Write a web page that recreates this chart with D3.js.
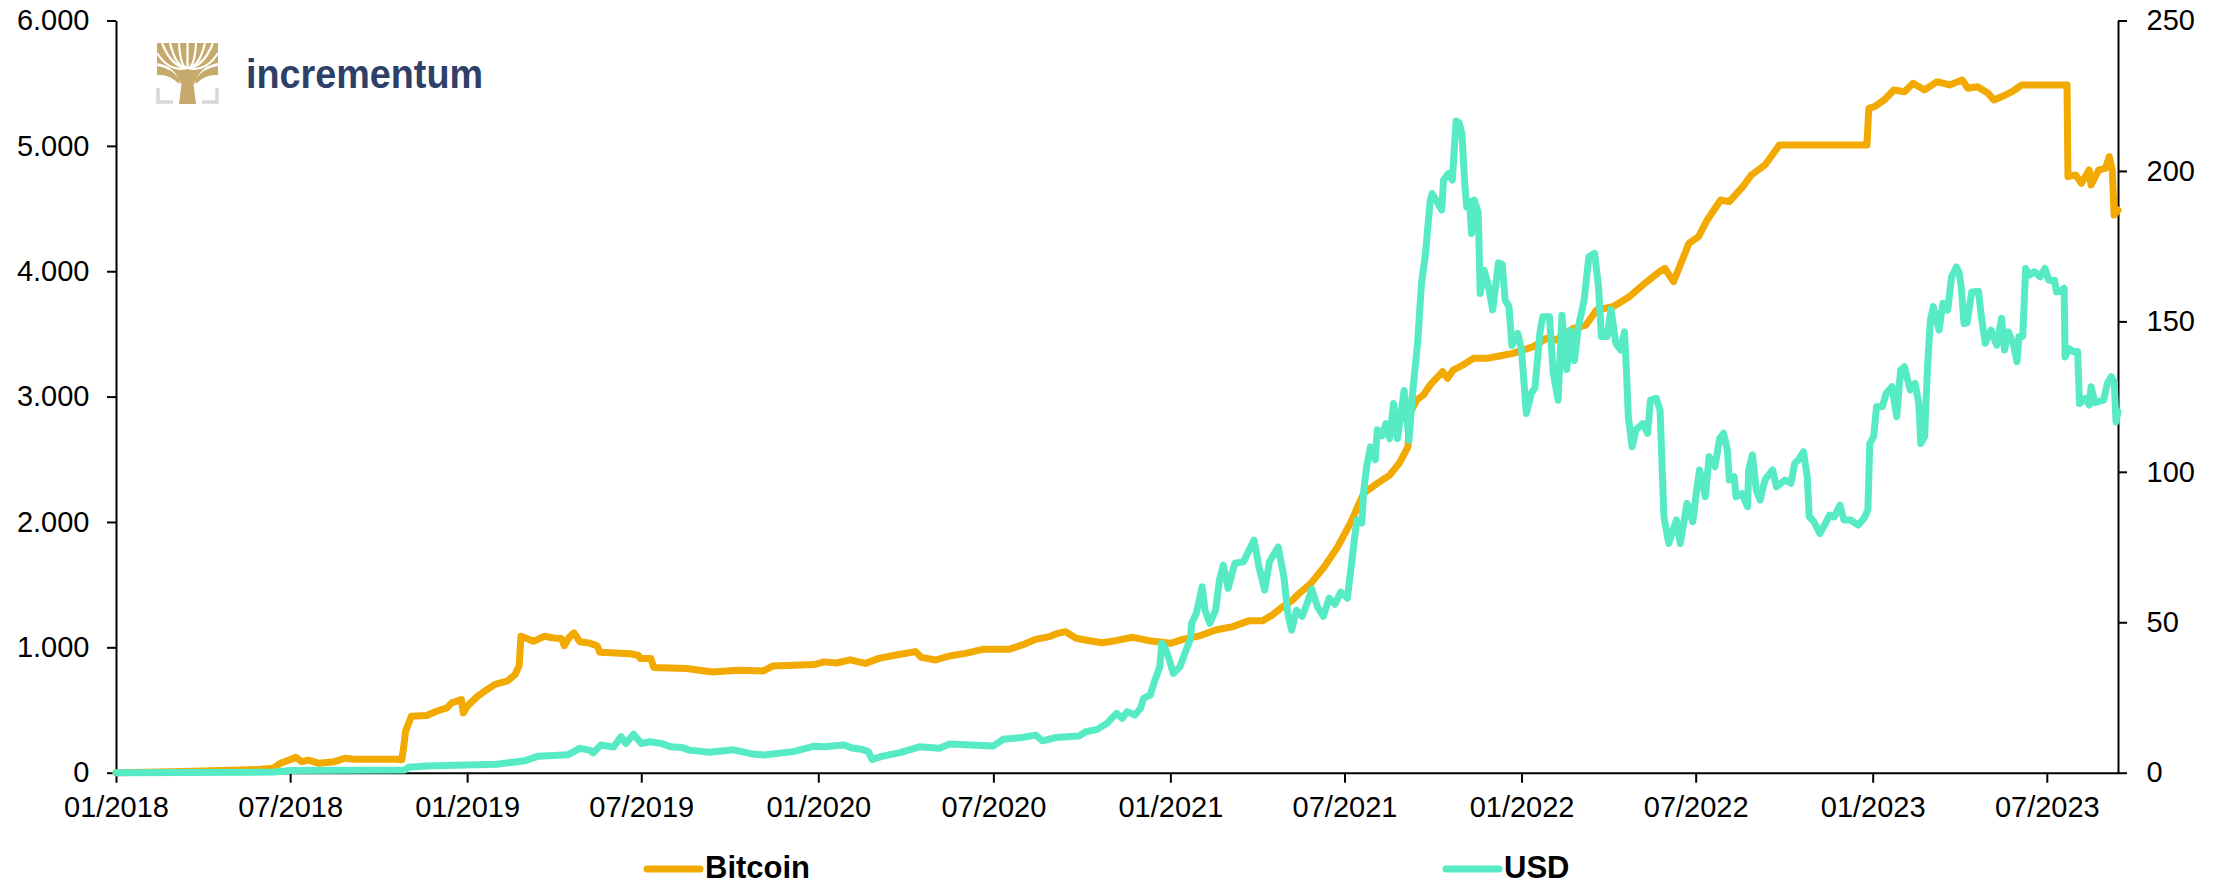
<!DOCTYPE html>
<html>
<head>
<meta charset="utf-8">
<script src="https://cdn.jsdelivr.net/npm/d3@7"></script>
<style>
  body { margin: 0; background: #ffffff; }
  svg { display: block; font-family: "Liberation Sans", Arial, sans-serif; }
</style>
</head>
<body>
<div id="chart"></div>
<script>
// ---- data ----
var bitcoinPoints = [
  ["2018-01-01",0],["2018-02-01",4],["2018-03-01",8],["2018-04-01",14],["2018-05-01",20],["2018-06-01",27],
  ["2018-06-13",35],["2018-06-21",75],["2018-06-28",95],["2018-07-07",123],["2018-07-13",88],["2018-07-20",100],
  ["2018-07-31",75],["2018-08-16",88],["2018-08-27",115],["2018-09-06",107],["2018-10-19",107],["2018-10-25",104],
  ["2018-10-27",200],["2018-10-29",330],["2018-11-04",450],["2018-11-20",456],["2018-11-30",490],["2018-12-11",517],
  ["2018-12-16",557],["2018-12-26",584],["2018-12-28",477],["2019-01-01",530],["2019-01-12",611],["2019-01-22",665],
  ["2019-01-30",705],["2019-02-12",732],["2019-02-20",785],["2019-02-24",852],["2019-02-26",1088],["2019-03-11",1048],
  ["2019-03-22",1088],["2019-04-01",1075],["2019-04-09",1070],["2019-04-12",1013],["2019-04-17",1080],["2019-04-22",1115],
  ["2019-04-28",1045],["2019-05-08",1034],["2019-05-16",1013],["2019-05-19",960],["2019-06-20",949],["2019-06-28",935],
  ["2019-06-30",911],["2019-07-11",911],["2019-07-14",839],["2019-08-17",831],["2019-09-13",804],["2019-10-09",817],
  ["2019-11-05",812],["2019-11-15",852],["2019-12-28",863],["2020-01-07",884],["2020-01-20",875],["2020-02-03",900],
  ["2020-02-19",872],["2020-03-04",912],["2020-03-22",939],["2020-04-11",966],["2020-04-17",920],["2020-05-02",899],
  ["2020-05-16",931],["2020-06-02",952],["2020-06-20",984],["2020-07-17",984],["2020-07-31",1019],["2020-08-14",1064],
  ["2020-08-28",1085],["2020-09-04",1107],["2020-09-14",1125],["2020-09-25",1072],["2020-10-09",1053],["2020-10-22",1037],
  ["2020-11-05",1053],["2020-11-23",1080],["2020-12-10",1053],["2021-01-01",1032],["2021-01-14",1064],["2021-01-31",1091],
  ["2021-02-17",1138],["2021-03-07",1165],["2021-03-24",1213],["2021-04-07",1213],["2021-04-17",1258],["2021-04-28",1325],
  ["2021-05-08",1377],["2021-05-15",1431],["2021-05-27",1510],["2021-06-10",1643],["2021-06-24",1803],["2021-07-07",1989],
  ["2021-07-21",2230],["2021-08-04",2308],["2021-08-17",2374],["2021-08-27",2470],["2021-09-05",2600],["2021-09-07",2866],
  ["2021-09-14",2973],["2021-09-21",3013],["2021-09-28",3093],["2021-10-11",3199],["2021-10-16",3146],["2021-10-22",3212],
  ["2021-11-01",3252],["2021-11-12",3305],["2021-11-26",3305],["2021-12-09",3324],["2021-12-23",3345],["2022-01-13",3398],
  ["2022-01-27",3465],["2022-02-06",3452],["2022-02-24",3545],["2022-03-09",3571],["2022-03-20",3691],["2022-04-06",3717],
  ["2022-04-23",3797],["2022-05-07",3890],["2022-05-25",4000],["2022-05-30",4023],["2022-06-08",3917],["2022-06-15",4050],
  ["2022-06-24",4223],["2022-07-04",4276],["2022-07-13",4409],["2022-07-27",4568],["2022-08-05",4555],["2022-08-19",4675],
  ["2022-08-28",4768],["2022-09-11",4847],["2022-09-20",4941],["2022-09-26",5007],["2022-12-26",5007],["2022-12-28",5299],
  ["2023-01-03",5313],["2023-01-13",5366],["2023-01-23",5446],["2023-02-03",5432],["2023-02-12",5499],["2023-02-24",5446],
  ["2023-03-09",5512],["2023-03-22",5486],["2023-04-04",5525],["2023-04-10",5459],["2023-04-20",5472],["2023-05-01",5419],
  ["2023-05-07",5366],["2023-05-19",5406],["2023-05-26",5432],["2023-06-05",5486],["2023-07-22",5486],["2023-07-23",4754],
  ["2023-07-31",4768],["2023-08-06",4701],["2023-08-14",4808],["2023-08-16",4688],["2023-08-24",4808],["2023-08-31",4821],
  ["2023-09-04",4914],["2023-09-07",4808],["2023-09-09",4448],["2023-09-13",4488]
];

var usdPoints = [
  ["2018-01-01",0],["2018-06-15",0.2],["2018-07-01",0.7],["2018-10-28",0.9],["2018-11-01",1.8],["2018-11-20",2.2],
  ["2018-12-20",2.5],["2019-02-01",2.8],["2019-03-02",4.0],["2019-03-16",5.5],["2019-04-16",6.0],["2019-04-28",8.1],
  ["2019-05-08",7.5],["2019-05-12",6.6],["2019-05-20",9.2],["2019-06-02",8.5],["2019-06-10",12.0],["2019-06-15",9.7],
  ["2019-06-23",12.8],["2019-07-01",9.7],["2019-07-10",10.3],["2019-07-22",9.7],["2019-08-01",8.6],["2019-08-12",8.4],
  ["2019-08-20",7.5],["2019-09-10",6.8],["2019-10-05",7.6],["2019-10-25",6.2],["2019-11-05",5.9],["2019-12-06",7.0],
  ["2019-12-28",8.8],["2020-01-07",8.6],["2020-01-28",9.2],["2020-02-05",8.2],["2020-02-15",7.8],["2020-02-22",7.0],
  ["2020-02-26",4.4],["2020-03-08",5.5],["2020-03-25",6.6],["2020-04-15",8.6],["2020-05-06",8.1],["2020-05-16",9.5],
  ["2020-07-01",8.9],["2020-07-11",11.1],["2020-07-31",11.7],["2020-08-14",12.5],["2020-08-21",10.6],["2020-09-04",11.7],
  ["2020-09-28",12.2],["2020-10-05",13.6],["2020-10-17",14.4],["2020-10-27",16.4],["2020-11-06",19.7],["2020-11-12",18.1],
  ["2020-11-17",20.3],["2020-11-25",19.2],["2020-12-01",21.4],["2020-12-04",24.7],["2020-12-11",25.8],["2020-12-16",30.8],
  ["2020-12-21",35.2],["2020-12-23",43],["2020-12-26",41.9],["2020-12-30",38.5],["2021-01-04",33],["2021-01-11",35.2],
  ["2021-01-16",39.7],["2021-01-22",44.6],["2021-01-23",49.6],["2021-01-28",53],["2021-02-03",61.8],["2021-02-06",54],
  ["2021-02-11",49.6],["2021-02-17",54],["2021-02-21",64],["2021-02-25",69],["2021-03-02",61.3],["2021-03-09",69.6],
  ["2021-03-18",70.1],["2021-03-29",77.3],["2021-04-03",68.5],["2021-04-09",60.7],["2021-04-14",70.1],["2021-04-23",75],
  ["2021-04-29",65.1],["2021-05-03",53],["2021-05-07",47.4],["2021-05-12",54],["2021-05-18",52],["2021-05-24",57],
  ["2021-05-28",61],["2021-06-03",55],["2021-06-09",52],["2021-06-15",58],["2021-06-21",56],["2021-06-27",60],
  ["2021-07-04",58],["2021-07-07",66],["2021-07-12",79.5],["2021-07-14",84],["2021-07-19",83],["2021-07-21",94],
  ["2021-07-24",101.7],["2021-07-28",108.3],["2021-08-02",104],["2021-08-04",114],["2021-08-09",112],["2021-08-13",116],
  ["2021-08-17",111],["2021-08-21",122.7],["2021-08-25",111],["2021-09-01",127],["2021-09-06",110.5],["2021-09-10",127],
  ["2021-09-15",143],["2021-09-19",162.6],["2021-09-23",172],["2021-09-28",190],["2021-09-30",192.5],["2021-10-10",187],
  ["2021-10-12",197],["2021-10-17",199.2],["2021-10-21",197],["2021-10-25",216.6],["2021-10-28",216],["2021-10-31",212.5],
  ["2021-11-03",195.8],["2021-11-05",188],["2021-11-08",190],["2021-11-10",179.2],["2021-11-13",190.3],["2021-11-17",186],
  ["2021-11-19",159.3],["2021-11-23",167],["2021-11-27",162.6],["2021-12-02",153.8],["2021-12-08",169.5],["2021-12-12",169],
  ["2021-12-15",157],["2021-12-19",154.9],["2021-12-22",142],["2021-12-28",146],["2022-01-01",140.5],["2022-01-06",119.4],
  ["2022-01-11",126],["2022-01-15",128],["2022-01-20",146],["2022-01-23",151.5],["2022-01-30",151.5],["2022-02-03",132.7],
  ["2022-02-08",123.8],["2022-02-12",152],["2022-02-17",134],["2022-02-21",147],["2022-02-25",137],["2022-03-01",148],
  ["2022-03-07",157],["2022-03-12",171.5],["2022-03-18",172.6],["2022-03-22",161.5],["2022-03-25",145],["2022-03-31",145],
  ["2022-04-04",154],["2022-04-09",142.7],["2022-04-14",140.5],["2022-04-18",146.5],["2022-04-20",133.8],["2022-04-22",118.3],
  ["2022-04-26",108.3],["2022-04-30",114],["2022-05-07",116],["2022-05-12",112.8],["2022-05-15",123.8],["2022-05-21",124.4],
  ["2022-05-25",120.5],["2022-05-29",85.1],["2022-06-03",76.2],["2022-06-11",84],["2022-06-15",76.2],["2022-06-22",89.5],
  ["2022-06-28",83.4],["2022-07-02",93.9],["2022-07-05",100.6],["2022-07-11",91.7],["2022-07-15",105],["2022-07-21",101.7],
  ["2022-07-26",111.1],["2022-07-30",112.8],["2022-08-03",107.2],["2022-08-05",97.3],["2022-08-10",98.4],["2022-08-12",91.7],
  ["2022-08-18",92.8],["2022-08-24",88.4],["2022-08-25",100.6],["2022-08-29",105.6],["2022-09-02",93.9],["2022-09-06",90.6],
  ["2022-09-11",97.3],["2022-09-19",100.6],["2022-09-23",95],["2022-10-02",97.3],["2022-10-08",96.2],["2022-10-12",102.8],
  ["2022-10-17",104.5],["2022-10-21",106.7],["2022-10-25",98.4],["2022-10-27",85.1],["2022-11-01",83.4],["2022-11-07",79.5],
  ["2022-11-13",82.9],["2022-11-17",85.6],["2022-11-22",85],["2022-11-28",88.9],["2022-12-02",84],["2022-12-09",84],
  ["2022-12-17",82.3],["2022-12-23",84.5],["2022-12-27",87.3],["2022-12-29",109.4],["2023-01-02",111.7],["2023-01-05",121.6],
  ["2023-01-11",121.6],["2023-01-15",126],["2023-01-21",128.3],["2023-01-26",118.3],["2023-01-30",133.8],["2023-02-03",134.9],
  ["2023-02-09",127.2],["2023-02-14",129.4],["2023-02-18",122.7],["2023-02-20",109.4],["2023-02-24",111.7],["2023-02-27",134.9],
  ["2023-03-02",150.4],["2023-03-05",154.9],["2023-03-11",147.1],["2023-03-15",156],["2023-03-20",153.8],["2023-03-24",164.8],
  ["2023-03-29",168.1],["2023-04-01",166],["2023-04-03",161.5],["2023-04-06",149.3],["2023-04-09",149.5],["2023-04-14",159.8],
  ["2023-04-21",160],["2023-04-24",151.5],["2023-04-28",142.7],["2023-05-04",147.1],["2023-05-10",142.1],["2023-05-15",151],
  ["2023-05-18",140.5],["2023-05-22",146.5],["2023-05-27",142.7],["2023-05-31",136.6],["2023-06-02",144.9],["2023-06-06",145],
  ["2023-06-09",167.6],["2023-06-13",165.4],["2023-06-18",166.5],["2023-06-24",164.8],["2023-06-29",167.6],["2023-07-03",163.7],
  ["2023-07-09",163.7],["2023-07-11",159.8],["2023-07-15",160],["2023-07-19",161],["2023-07-20",138.2],["2023-07-24",141],
  ["2023-07-28",140],["2023-08-02",140],["2023-08-04",122.7],["2023-08-10",124.4],["2023-08-14",122.2],["2023-08-16",128.3],
  ["2023-08-20",123],["2023-08-25",123.5],["2023-08-29",123.8],["2023-09-02",129.4],["2023-09-06",131.6],["2023-09-09",129.9],
  ["2023-09-11",116.6],["2023-09-13",120]
];

var leftTicks = [0, 1000, 2000, 3000, 4000, 5000, 6000];
var rightTicks = [0, 50, 100, 150, 200, 250];
var xDomain = ["2018-01-01", "2023-09-13"];
var seriesNames = ["Bitcoin", "USD"];
var seriesColors = ["#f2a900", "#57ebc5"];

// ---- layout ----
var W = 2226, H = 884;
var margin = {top: 20.5, right: 108, bottom: 111.3, left: 116},
    width = W - margin.left - margin.right,
    height = H - margin.top - margin.bottom;

var parse = d3.timeParse("%Y-%m-%d");
var fmtDE = d3.formatLocale({decimal: ",", thousands: ".", grouping: [3], currency: ["", ""]}).format(",");

var svg = d3.select("#chart").append("svg")
  .attr("width", W)
  .attr("height", H);

var g = svg.append("g")
  .attr("transform", "translate(" + margin.left + "," + margin.top + ")");

var x = d3.scaleTime()
  .domain(xDomain.map(parse))
  .range([0, width]);

var yLeft = d3.scaleLinear().domain([0, 6000]).range([height, 0]);
var yRight = d3.scaleLinear().domain([0, 250]).range([height, 0]);

// axes
var xAxis = g.append("g")
  .attr("transform", "translate(0," + height + ")")
  .call(d3.axisBottom(x).ticks(d3.timeMonth.every(6)).tickFormat(d3.timeFormat("%m/%Y"))
    .tickSize(10).tickSizeOuter(0));
xAxis.selectAll("text").attr("y", 44).attr("dy", 0);

var leftAxis = g.append("g")
  .call(d3.axisLeft(yLeft).tickValues(leftTicks).tickFormat(fmtDE)
    .tickSize(9).tickPadding(17.5).tickSizeOuter(0));

var rightAxis = g.append("g")
  .attr("transform", "translate(" + width + ",0)")
  .call(d3.axisRight(yRight).tickValues(rightTicks)
    .tickSize(9).tickPadding(19.5).tickSizeOuter(0));

g.selectAll(".tick text")
  .style("font-size", "29px")
  .style("font-family", "'Liberation Sans', Arial, sans-serif")
  .attr("fill", "#000");
g.selectAll(".domain, .tick line")
  .attr("stroke", "#000")
  .attr("stroke-width", 2);

// lines
var btc = bitcoinPoints.map(function(d){ return {date: parse(d[0]), value: d[1]}; });
var usd = usdPoints.map(function(d){ return {date: parse(d[0]), value: d[1]}; });

var btcLine = d3.line()
  .x(function(d){ return x(d.date); })
  .y(function(d){ return yLeft(d.value); });
var usdLine = d3.line()
  .x(function(d){ return x(d.date); })
  .y(function(d){ return yRight(d.value); });

g.append("path")
  .datum(btc)
  .attr("d", btcLine)
  .attr("fill", "none")
  .attr("stroke", seriesColors[0])
  .attr("stroke-width", 7)
  .attr("stroke-linejoin", "round")
  .attr("stroke-linecap", "round");

g.append("path")
  .datum(usd)
  .attr("d", usdLine)
  .attr("fill", "none")
  .attr("stroke", seriesColors[1])
  .attr("stroke-width", 7)
  .attr("stroke-linejoin", "round")
  .attr("stroke-linecap", "round");

// legend
var legendX = [647, 1446];
var legend = svg.append("g");
seriesNames.forEach(function(name, i) {
  legend.append("line")
    .attr("x1", legendX[i]).attr("x2", legendX[i] + 53)
    .attr("y1", 869).attr("y2", 869)
    .attr("stroke", seriesColors[i])
    .attr("stroke-width", 7)
    .attr("stroke-linecap", "round");
  legend.append("text")
    .attr("x", legendX[i] + 58)
    .attr("y", 878)
    .attr("font-size", 31)
    .attr("font-weight", "bold")
    .attr("fill", "#000")
    .text(name);
});

// incrementum logo
var logo = svg.append("g");
var gold = "#c6a96b";
// grey bracket corners
logo.append("path")
  .attr("d", "M158,88 V102 H173 M217,88 V102 H202")
  .attr("fill", "none").attr("stroke", "#d8d8d8").attr("stroke-width", 3.5);
// crown: gold block with white gaps between branches
logo.append("path")
  .attr("d", "M157,43 H218 V63 Q200,66 194,84 H181 Q175,66 157,63 Z")
  .attr("fill", gold);
logo.append("path")
  .attr("d", "M157,66 Q172,68 180,80 L179,84 Q170,74 157,75 Z M218,66 Q203,68 195,80 L196,84 Q205,74 218,75 Z")
  .attr("fill", gold);
var gaps = [[162,43],[170,43],[179,43],[187.5,43],[196,43],[205,43],[213,43],[157,53],[218,53]];
gaps.forEach(function(p) {
  var sx = 187.5, sy = 80;
  var cx = (sx + p[0]) / 2 + (p[0] < sx ? -3 : p[0] > sx ? 3 : 0), cy = (sy + p[1]) / 2 + 6;
  logo.append("path")
    .attr("d", "M" + sx + "," + (sy - 12) + " Q" + cx + "," + cy + " " + p[0] + "," + p[1])
    .attr("fill", "none").attr("stroke", "#fff").attr("stroke-width", 2.2);
});
// trunk
logo.append("path")
  .attr("d", "M179,104 L196,104 L193,80 L182,80 Z")
  .attr("fill", gold);
logo.append("text")
  .attr("x", 246).attr("y", 88)
  .attr("font-size", 41)
  .attr("font-weight", "bold")
  .attr("fill", "#2e4068")
  .attr("textLength", 237)
  .attr("lengthAdjust", "spacingAndGlyphs")
  .text("incrementum");
</script>
</body>
</html>
